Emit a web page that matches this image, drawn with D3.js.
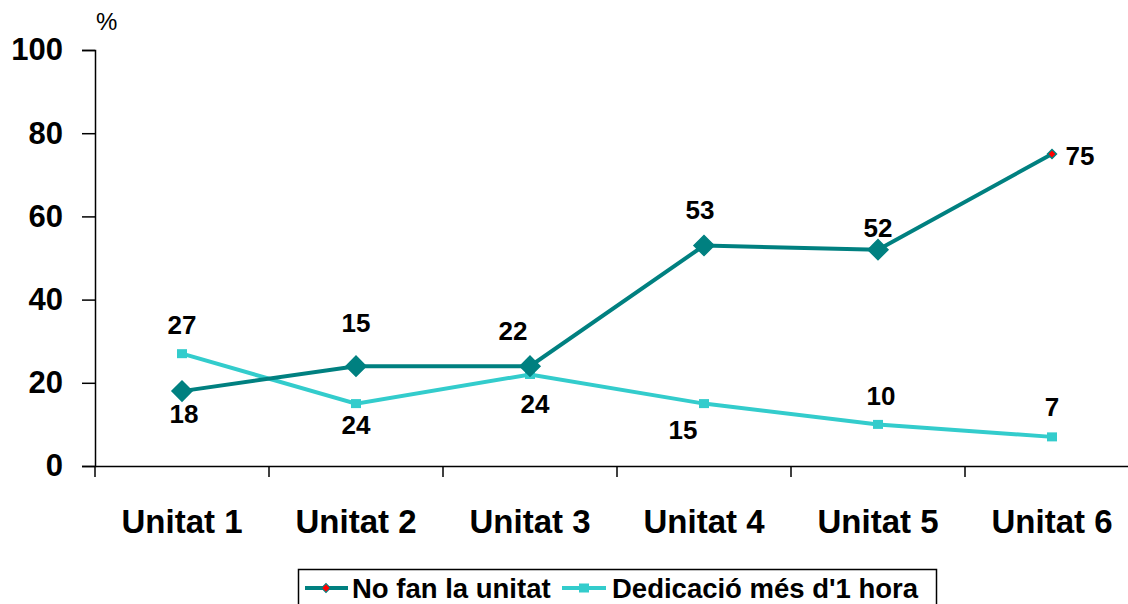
<!DOCTYPE html>
<html>
<head>
<meta charset="utf-8">
<script src="https://cdn.jsdelivr.net/npm/d3@7"></script>
<style>
  body { margin: 0; background: #fff; }
  svg { font-family: "Liberation Sans", Arial, sans-serif; }
</style>
</head>
<body>
<svg id="chart" width="1128" height="604"></svg>
<script>
// data
var categories = ["Unitat 1", "Unitat 2", "Unitat 3", "Unitat 4", "Unitat 5", "Unitat 6"];
var noFan = [18, 24, 24, 53, 52, 75];
var dedicacio = [27, 15, 22, 15, 10, 7];
// data labels as printed in the original
var noFanLabels = ["18", "15", "22", "53", "52", "75"];
var dedicacioLabels = ["27", "24", "24", "15", "10", "7"];
var yTicks = [0, 20, 40, 60, 80, 100];

// label placement (dx, dy from the point)
var noFanLabelPos = [[2, 32], [0, -34], [-17, -26], [-4, -27], [0, -13], [28, 11]];
var dedLabelPos = [[0, -20], [0, 30], [5, 39], [-21, 35], [3, -19], [0, -21]];

var teal = "#008080";
var cyan = "#33CCCC";

var svg = d3.select("#chart");

var x = d3.scaleBand().domain(categories).range([95, 1139]);
var y = d3.scaleLinear().domain([0, 100]).range([466, 50]);

// y axis
var yAxis = svg.append("g")
  .attr("transform", "translate(95,0)")
  .call(d3.axisLeft(y).tickValues(yTicks).tickSize(13).tickPadding(19));
yAxis.select(".domain").attr("stroke", "#000").attr("stroke-width", 1.5);
yAxis.selectAll(".tick line").attr("stroke", "#000").attr("stroke-width", 1.5);
yAxis.selectAll(".tick text")
  .attr("font-size", "31px")
  .attr("font-weight", "bold")
  .attr("font-family", "Liberation Sans, Arial, sans-serif")
  .attr("fill", "#000");

// x axis
var xAxis = svg.append("g")
  .attr("transform", "translate(0,466)")
  .call(d3.axisBottom(x).tickSize(0).tickPadding(0).tickFormat(""));
xAxis.select(".domain").attr("stroke", "#000").attr("stroke-width", 1.5);
xAxis.selectAll(".tick").remove();

var edges = x.domain().map(function (d) { return x(d); });
svg.append("g").selectAll("line").data(edges)
  .enter().append("line")
  .attr("x1", function (d) { return d; })
  .attr("x2", function (d) { return d; })
  .attr("y1", 466).attr("y2", 477)
  .attr("stroke", "#000").attr("stroke-width", 1.5);

svg.append("g").selectAll("text").data(categories)
  .enter().append("text")
  .attr("x", function (d) { return x(d) + x.bandwidth() / 2; })
  .attr("y", 533)
  .attr("text-anchor", "middle")
  .attr("font-size", "33px")
  .attr("font-weight", "bold")
  .text(function (d) { return d; });

svg.append("text")
  .attr("x", 96).attr("y", 30)
  .attr("font-size", "24px")
  .text("%");

var cx = function (d, i) { return x(categories[i]) + x.bandwidth() / 2; };

var line = d3.line()
  .x(function (d, i) { return cx(d, i); })
  .y(function (d) { return y(d); });

// Dedicació line
svg.append("path")
  .datum(dedicacio)
  .attr("d", line)
  .attr("fill", "none")
  .attr("stroke", cyan)
  .attr("stroke-width", 4);

// No fan line
svg.append("path")
  .datum(noFan)
  .attr("d", line)
  .attr("fill", "none")
  .attr("stroke", teal)
  .attr("stroke-width", 4);

svg.append("g").selectAll("rect").data(dedicacio)
  .enter().append("rect")
  .attr("x", function (d, i) { return cx(d, i) - 5; })
  .attr("y", function (d) { return y(d) - 4.5; })
  .attr("width", 10).attr("height", 9)
  .attr("fill", cyan);

var diamond = d3.symbol().type(d3.symbolSquare).size(200);
var smallDiamond = d3.symbol().type(d3.symbolSquare).size(40);

svg.append("g").selectAll("path").data(noFan)
  .enter().append("path")
  .attr("d", function (d, i) { return i === noFan.length - 1 ? smallDiamond() : diamond(); })
  .attr("transform", function (d, i) { return "translate(" + cx(d, i) + "," + y(d) + ") rotate(45)"; })
  .attr("fill", function (d, i) { return i === noFan.length - 1 ? "#FF0000" : teal; })
  .attr("stroke", teal)
  .attr("stroke-width", 1.5);

// data labels
function addLabels(values, labels, pos) {
  svg.append("g").selectAll("text").data(values)
    .enter().append("text")
    .attr("x", function (d, i) { return cx(d, i) + pos[i][0]; })
    .attr("y", function (d, i) { return y(d) + pos[i][1]; })
    .attr("text-anchor", "middle")
    .attr("font-size", "26px")
    .attr("font-weight", "bold")
    .text(function (d, i) { return labels[i]; });
}
addLabels(noFan, noFanLabels, noFanLabelPos);
addLabels(dedicacio, dedicacioLabels, dedLabelPos);

// legend
var legend = svg.append("g");
legend.append("rect")
  .attr("x", 298.5).attr("y", 569.5)
  .attr("width", 638).attr("height", 40)
  .attr("fill", "#fff").attr("stroke", "#000").attr("stroke-width", 1.5);

legend.append("line")
  .attr("x1", 305).attr("x2", 348).attr("y1", 588).attr("y2", 588)
  .attr("stroke", teal).attr("stroke-width", 4);
legend.append("path")
  .attr("d", smallDiamond())
  .attr("transform", "translate(326,588) rotate(45)")
  .attr("fill", "#FF0000").attr("stroke", teal).attr("stroke-width", 1);
legend.append("text")
  .attr("x", 352).attr("y", 598)
  .attr("font-size", "27.5px").attr("font-weight", "bold")
  .text("No fan la unitat");

legend.append("line")
  .attr("x1", 562).attr("x2", 606).attr("y1", 588).attr("y2", 588)
  .attr("stroke", cyan).attr("stroke-width", 4);
legend.append("rect")
  .attr("x", 579).attr("y", 583.5).attr("width", 10).attr("height", 9)
  .attr("fill", cyan);
legend.append("text")
  .attr("x", 612).attr("y", 598)
  .attr("font-size", "27.5px").attr("font-weight", "bold")
  .text("Dedicació més d'1 hora");
</script>
</body>
</html>
